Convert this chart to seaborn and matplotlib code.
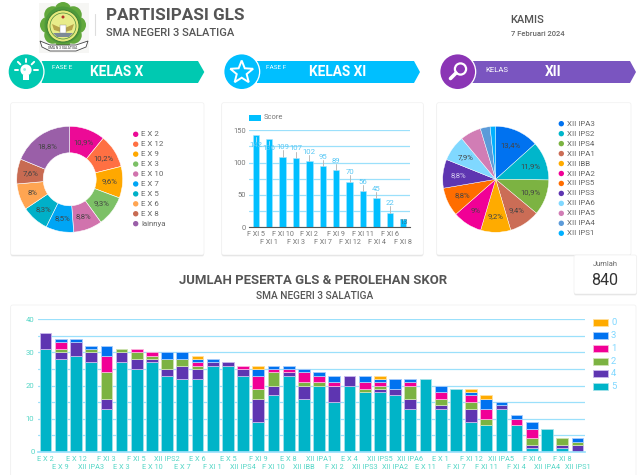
import numpy as np
import matplotlib
matplotlib.use("Agg")
import matplotlib.pyplot as plt
from matplotlib.patches import Circle, FancyBboxPatch, Polygon, Rectangle, Ellipse
import seaborn as sns

# donut - kelas X
donut_labels = ["E X 2", "E X 12", "E X 9", "E X 3", "E X 10", "E X 7", "E X 5", "E X 6", "E X 8", "lainnya"]
donut_values = [10.9, 10.2, 9.6, 9.3, 8.8, 8.5, 8.3, 8.0, 7.6, 18.8]
donut_text = ["10,9%", "10,2%", "9,6%", "9,3%", "8,8%", "8,5%", "8,3%", "8%", "7,6%", "18,8%"]
donut_colors = ["#ec0a96", "#ff7043", "#ffa800", "#7cc066", "#d173ad", "#00a5f5", "#00b0c8", "#ffa552", "#c86b52", "#9a5fa8"]

# bars - kelas XI
score_labels = ["F XI 5", "F XI 1", "F XI 10", "F XI 3", "F XI 2", "F XI 7", "F XI 9", "F XI 12", "F XI 11", "F XI 4", "F XI 6", "F XI 8"]
score_values = [142, 136, 109, 107, 102, 95, 89, 70, 56, 45, 22, 13]
score_label_y = [127, 122, 124, 122, 117, 109, 103, 85, 70, 59, 37, 7]

# pie - kelas XII
pie_labels = ["XII IPA3", "XII IPS2", "XII IPS4", "XII IPA1", "XII IBB", "XII IPA2", "XII IPS5", "XII IPS3", "XII IPA6", "XII IPA5", "XII IPA4", "XII IPS1"]
pie_values = [13.4, 11.9, 10.9, 9.4, 9.2, 9.0, 8.8, 8.8, 7.9, 6.4, 3.0, 1.7]
pie_text = ["13,4%", "11,9%", "10,9%", "9,4%", "9,2%", "9%", "8,8%", "8,8%", "7,9%", "", "", ""]
pie_colors = ["#0072f0", "#00b6cb", "#7cb342", "#cb6d56", "#ffab00", "#f10096", "#ff6d00", "#5e35b1", "#80d8ff", "#d17db5", "#5c9bd9", "#00b0ff"]

# stacked - peserta per kelas
kelas = ["E X 2", "E X 9", "E X 12", "XII IPA3", "F XI 3", "E X 3", "F XI 5", "E X 10", "XII IPS2", "E X 7", "E X 6", "F XI 1",
         "E X 5", "XII IPS4", "F XI 9", "F XI 10", "E X 8", "XII IBB", "XII IPA1", "F XI 2", "E X 4", "XII IPS3", "XII IPS5", "XII IPA2",
         "XII IPA6", "E X 11", "E X 1", "F XI 7", "F XI 12", "F XI 11", "XII IPA5", "F XI 4", "F XI 6", "XII IPA4", "F XI 8", "XII IPS1"]
skor_5 = [31, 28, 29, 27, 13, 27, 25, 27, 23, 22, 22, 26, 26, 23, 9, 17, 23, 16, 20, 15, 20, 18, 18, 17, 13, 22, 13, 19, 9, 8, 13, 8, 1, 7, 1, 0]
skor_4 = [5, 2, 4, 3, 3, 3, 3, 1, 2, 4, 3, 1, 1, 2, 7, 3, 1, 4, 0, 5, 3, 0, 1, 2, 3, 0, 1, 0, 4, 0, 1, 0, 1, 0, 1, 2]
skor_2 = [0, 1, 0, 1, 8, 1, 2, 1, 3, 2, 1, 0, 0, 0, 3, 4, 0, 1, 1, 0, 0, 1, 1, 0, 4, 0, 2, 0, 2, 2, 0, 0, 2, 0, 2, 1]
skor_1 = [0, 2, 0, 0, 5, 0, 1, 1, 0, 0, 1, 0, 0, 1, 4, 1, 1, 3, 2, 1, 0, 2, 1, 0, 1, 0, 2, 0, 2, 3, 0, 2, 3, 0, 0, 0]
skor_3 = [0, 1, 1, 1, 3, 0, 0, 0, 2, 2, 1, 1, 0, 0, 2, 1, 1, 1, 1, 2, 0, 2, 1, 3, 1, 0, 2, 0, 1, 3, 1, 1, 2, 0, 0, 1]
skor_0 = [0, 0, 0, 0, 0, 0, 0, 0, 0, 0, 1, 0, 0, 0, 1, 0, 0, 0, 0, 0, 0, 0, 1, 0, 0, 0, 0, 0, 1, 1, 0, 0, 0, 0, 0, 0]
skor_names = ["5", "4", "2", "1", "3", "0"]
skor_colors = ["#00b4c8", "#5e35b1", "#7cb342", "#f10096", "#0072f0", "#ffab00"]
skor_edges = ["#a5e2ea", "#c9b8ec", "#cfe3b4", "#fbb4dc", "#a9cdfb", "#ffe0a0"]

W, H = 640, 475
GREY = "#555555"
GRID = "#9be0fb"
TEAL_TXT = "#55d6c6"

sns.set_theme(style="white")
plt.rcParams["font.family"] = ["Roboto", "DejaVu Sans"]

fig = plt.figure(figsize=(W / 100, H / 100), dpi=100, facecolor="white")


def px_axes(x0, y0, x1, y1, **kw):
    # axes placed by picture pixels, y going down
    return fig.add_axes([x0 / W, 1 - y1 / H, (x1 - x0) / W, (y1 - y0) / H], **kw)


bg = px_axes(0, 0, W, H)
bg.set_xlim(0, W)
bg.set_ylim(H, 0)
bg.axis("off")


def card(x0, y0, x1, y1):
    for off, alpha in [(1.6, 0.10), (0.8, 0.18)]:
        bg.add_patch(FancyBboxPatch((x0, y0 + off), x1 - x0, y1 - y0, boxstyle="round,pad=0,rounding_size=2",
                                    fc="#888888", ec="none", alpha=alpha))
    bg.add_patch(FancyBboxPatch((x0, y0), x1 - x0, y1 - y0, boxstyle="round,pad=0,rounding_size=2",
                                fc="white", ec="#f0f0f0", lw=0.5))


def ribbon(cx, x0, x1, tip, fill, circle_fill):
    bg.add_patch(Polygon([(x0, 61), (x1, 61), (tip, 72), (x1, 83), (x0, 83)], fc=fill, ec="none"))
    bg.add_patch(Circle((cx, 71.7), 18.6, fc="white", ec="none"))
    bg.add_patch(Circle((cx, 71.7), 17.3, fc=circle_fill, ec="none"))


def stagger(ax, near, far):
    # two rows of x labels, odd ones pushed down
    for i, tick in enumerate(ax.xaxis.get_major_ticks()):
        tick.set_pad(far if i % 2 else near)


card(10.7, 102.7, 204, 255)
card(221.7, 102.7, 423.3, 255)
card(436.7, 102.7, 631, 255)
card(10.7, 305, 636, 490)
card(574, 255, 636.7, 294)

# header logo
bg.add_patch(Rectangle((39, 3), 50, 50, fc="#f6f6f4", ec="none"))
for ang in np.arange(0, 360, 45):
    bg.add_patch(Ellipse((63 + 14.5 * np.cos(np.radians(ang)), 25 + 14.5 * np.sin(np.radians(ang))), 17, 17, fc="#62a83c", ec="none"))
bg.add_patch(Circle((63, 25), 18.5, fc="#4f9a3a", ec="none"))
bg.add_patch(Circle((63, 26), 16, fc="#e4e97c", ec="#3f7f34", lw=0.7))
bg.add_patch(Circle((63, 26), 13, fc="#e8ec8a", ec="#4b8a3a", lw=0.5))
bg.add_patch(Polygon([(52, 24), (61, 28), (61, 32), (54, 30)], fc="#b7a34a", ec="none"))
bg.add_patch(Polygon([(74, 24), (65, 28), (65, 32), (72, 30)], fc="#b7a34a", ec="none"))
bg.add_patch(Rectangle((60, 25), 6, 8, fc="white", ec="#888888", lw=0.3))
bg.add_patch(Polygon([(53, 33), (73, 33), (69, 37), (57, 37)], fc="#7d8a96", ec="none"))
bg.add_patch(Circle((63, 17), 1.5, fc="#b4342a", ec="none"))
bg.add_patch(Polygon([(40, 41), (50, 45), (76, 45), (88, 41), (86, 47), (76, 51), (50, 51), (42, 47)], fc="white", ec="#444444", lw=0.6))
bg.text(63, 48, "SMA N 3 SALATIGA", fontsize=2.4, ha="center", va="center", color="#333333")
bg.plot([94.7, 94.7], [14, 35], color="#dddddd", lw=0.8)

bg.text(105.7, 16, "PARTISIPASI GLS", fontsize=12.3, fontweight="bold", color=GREY, va="center")
bg.text(105.7, 32.8, "SMA NEGERI 3 SALATIGA", fontsize=8, fontweight="medium", color=GREY, va="center")
bg.text(510.7, 20.3, "KAMIS", fontsize=8, fontweight="medium", color=GREY, va="center")
bg.text(510.7, 33.5, "7 Februari 2024", fontsize=5.5, fontweight="medium", color="#666666", va="center")

# ribbons
ribbon(26, 41.7, 198, 204.3, "#00c9b1", "#00c9b1")
ribbon(241.7, 257, 414, 420, "#00bfff", "#00bfff")
ribbon(457.7, 471.7, 630, 636, "#7a55c0", "#8b35b5")
bg.text(51.7, 67.7, "FASE E", fontsize=4.6, color="white", va="center")
bg.text(116.7, 72, "KELAS X", fontsize=9.8, fontweight="bold", color="white", ha="center", va="center")
bg.text(266, 67.7, "FASE F", fontsize=4.6, color="white", va="center")
bg.text(337.5, 72, "KELAS XI", fontsize=9.8, fontweight="bold", color="white", ha="center", va="center")
bg.text(485.7, 70, "KELAS", fontsize=5.6, color="white", va="center")
bg.text(553, 72, "XII", fontsize=9.8, fontweight="bold", color="white", ha="center", va="center")

# bulb icon
bg.add_patch(Circle((26, 70), 5.6, fc="white", ec="none"))
bg.add_patch(Rectangle((23.2, 74.5), 5.6, 5, fc="white", ec="none"))
bg.add_patch(Circle((24.6, 69.5), 1.4, fc="#8ff0e0", ec="none"))
for ang in [180, 225, 270, 315, 0]:
    c, s = np.cos(np.radians(ang)), np.sin(np.radians(ang))
    bg.plot([26 + 8 * c, 26 + 11.5 * c], [70 + 8 * s, 70 + 11.5 * s], color="white", lw=1.4)
# star icon
star_a = np.radians(-90 + np.arange(10) * 36)
star_r = np.array([12, 5.2] * 5)
bg.add_patch(Polygon(np.c_[241.7 + star_r * np.cos(star_a), 72.5 + star_r * np.sin(star_a)], fc="none", ec="white", lw=1.4))
# magnifier icon
bg.add_patch(Circle((460.5, 69), 5.6, fc="none", ec="white", lw=1.6))
bg.plot([450.5, 456], [78.5, 73], color="white", lw=2.6, solid_capstyle="round")

# donut
ax_d = px_axes(69.7 - 53, 179.3 - 53, 69.7 + 53, 179.3 + 53)
wedges, _ = ax_d.pie(donut_values, colors=donut_colors, startangle=90, counterclock=False, radius=1,
                     wedgeprops={"width": 0.5, "ec": "white", "lw": 0.4})
for w, t in zip(wedges, donut_text):
    a = np.radians((w.theta1 + w.theta2) / 2)
    ax_d.text(0.75 * np.cos(a), 0.75 * np.sin(a), t, fontsize=5.6, color="#444444", ha="center", va="center")
ax_d.set_xlim(-1, 1)
ax_d.set_ylim(-1, 1)
for i, (lab, col) in enumerate(zip(donut_labels, donut_colors)):
    bg.add_patch(Circle((135.7, 134.3 + i * 9.93), 2.7, fc=col, ec="none"))
    bg.text(141.3, 134.3 + i * 9.93, lab, fontsize=5.7, color="#666666", va="center")

# score bars
ax_b = px_axes(249, 130.3, 410, 227)
ax_b.patch.set_alpha(0)
ax_b.yaxis.grid(True, color=GRID, lw=0.9, zorder=0)
ax_b.set_axisbelow(True)
sns.barplot(x=score_labels, y=score_values, color="#00bfff", saturation=1, width=0.47,
            edgecolor="#a8e6ff", linewidth=0.4, ax=ax_b, zorder=2)
ax_b.set_ylim(0, 150)
ax_b.set_xlim(-0.5, 11.5)
ax_b.set_yticks(np.arange(0, 151, 25))
ax_b.set_yticklabels(["0", "", "50", "", "100", "", "150"], fontsize=5.4, color="#777777")
ax_b.tick_params(axis="both", length=0, pad=2.5)
ax_b.set_xticks(range(len(score_labels)))
ax_b.set_xticklabels(score_labels, fontsize=5.2, color="#777777")
stagger(ax_b, 2.8, 8.4)
ax_b.set_xlabel("")
sns.despine(ax=ax_b, left=True, top=True, right=True)
ax_b.spines["bottom"].set_color("#555555")
ax_b.spines["bottom"].set_linewidth(0.8)
for i, (v, ly) in enumerate(zip(score_values, score_label_y)):
    if ly > v:
        ax_b.plot([i, i], [v, ly - 5], color="#bbbbbb", lw=0.7, zorder=4)
    else:
        ax_b.plot([i, i], [v - 2, ly + 5], color="#9fdcf5", lw=0.7, zorder=4)
    ax_b.text(i, ly, str(v), fontsize=5.6, ha="center", va="center",
              color="#58c8f5" if i < 11 else "#2a7f9a", zorder=5)
bg.add_patch(Rectangle((249, 115), 12, 5.8, fc="#00bfff", ec="none"))
bg.text(263.7, 117.8, "Score", fontsize=5.4, color="#777777", va="center")

# pie
ax_p = px_axes(495.7 - 53, 179.3 - 53, 495.7 + 53, 179.3 + 53)
wedges, _ = ax_p.pie(pie_values, colors=pie_colors, startangle=90, counterclock=False, radius=1,
                     wedgeprops={"ec": "white", "lw": 0.3})
for w, t, col in zip(wedges, pie_text, pie_colors):
    a = np.radians((w.theta1 + w.theta2) / 2)
    ax_p.text(0.7 * np.cos(a), 0.7 * np.sin(a), t, fontsize=5.6, ha="center", va="center",
              color="#d8d0f0" if col == "#5e35b1" else "#444444")
ax_p.set_xlim(-1, 1)
ax_p.set_ylim(-1, 1)
for i, (lab, col) in enumerate(zip(pie_labels, pie_colors)):
    bg.add_patch(Circle((561.3, 123.7 + i * 9.96), 2.7, fc=col, ec="none"))
    bg.text(567, 123.7 + i * 9.96, lab, fontsize=5.7, color="#666666", va="center")

# title block
bg.text(312.8, 281, "JUMLAH PESERTA GLS & PEROLEHAN SKOR", fontsize=9.45, fontweight="bold", color=GREY, ha="center", va="center")
bg.text(315, 295.7, "SMA NEGERI 3 SALATIGA", fontsize=7.3, fontweight="medium", color=GREY, ha="center", va="center")
bg.text(605, 264.3, "Jumlah", fontsize=5.4, color="#666666", ha="center", va="center")
bg.text(605, 280.3, "840", fontsize=11.6, color="#333333", ha="center", va="center")

# stacked bars
ax_s = px_axes(38, 319.3, 585, 451.7)
ax_s.patch.set_alpha(0)
ax_s.yaxis.grid(True, color=GRID, lw=0.9, zorder=0)
ax_s.set_axisbelow(True)
bottom = np.zeros(len(kelas))
series = [skor_5, skor_4, skor_2, skor_1, skor_3, skor_0]
for vals, col, edge in zip(series, skor_colors, skor_edges):
    vals = np.array(vals)
    sns.barplot(x=kelas, y=vals, bottom=bottom, color=col, saturation=1, width=0.77,
                edgecolor=edge, linewidth=0.6, ax=ax_s, zorder=2)
    bottom = bottom + vals
for p in ax_s.patches:
    if p.get_height() == 0:
        p.set_visible(False)
ax_s.set_xlim(-0.5, len(kelas) - 0.5)
ax_s.set_ylim(0, 40)
ax_s.set_yticks(np.arange(0, 41, 5))
ax_s.set_yticklabels(["0", "", "10", "", "20", "", "30", "", "40"], fontsize=5.6, color=TEAL_TXT)
ax_s.set_xticks(range(len(kelas)))
ax_s.set_xticklabels(kelas, fontsize=5.3, color=TEAL_TXT)
ax_s.tick_params(axis="both", length=0, pad=2.5)
stagger(ax_s, 2.8, 9.2)
sns.despine(ax=ax_s, left=True, top=True, right=True)
ax_s.spines["bottom"].set_color(GRID)
for i, (name, col, edge) in enumerate(zip(skor_names[::-1], skor_colors[::-1], skor_edges[::-1])):
    y = 322.7 + i * 12.8
    bg.add_patch(Rectangle((593, y - 3.5), 15, 7, fc=col, ec=edge, lw=0.6))
    bg.text(611, y, name, fontsize=6.8, color="#80d8ff", va="center")

fig.savefig("out.png", dpi=100)
